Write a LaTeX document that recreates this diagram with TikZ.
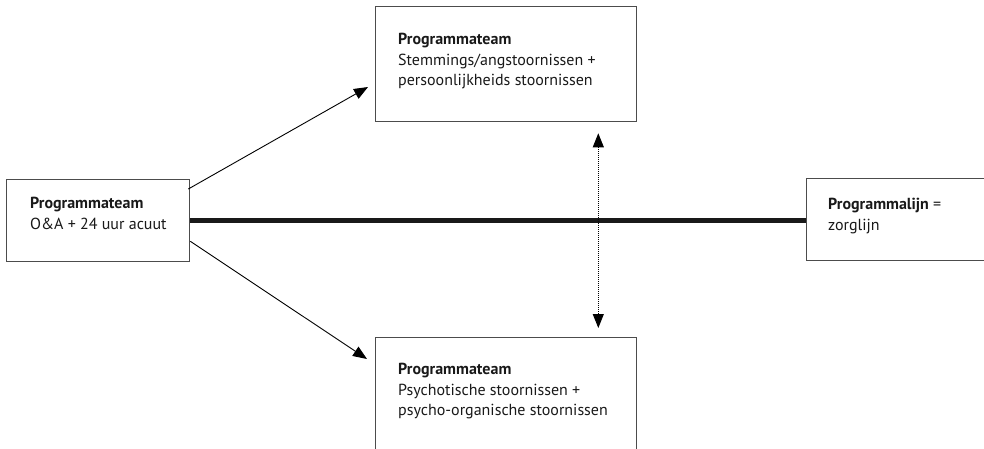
\documentclass[tikz,border=0pt]{standalone}
\usepackage{fontspec}
\setmainfont{PT Sans}
\usetikzlibrary{arrows.meta}

\begin{document}
\begin{tikzpicture}[x=1pt,y=-1pt,inner sep=0,
	box/.style={draw=black!70,line width=1.3pt,anchor=north west},
	txt/.style={anchor=north west,align=left,text=black!90,font=\fontsize{16}{20.5}\selectfont},
	pijl/.style={-{Triangle[length=14pt,width=11pt]},line width=0.9pt},
	dubbel/.style={{Triangle[length=14pt,width=11pt]}-{Triangle[length=14pt,width=11pt]},line width=0.9pt,dash pattern=on 1pt off 1pt}]
		\useasboundingbox (0,0) rectangle (984,448);
		\clip (0,0) rectangle (984,448);
		% boxes
		\node[box,minimum width=183pt,minimum height=82pt] (acuut) at (6,179) {};
		\node[box,minimum width=261pt,minimum height=115pt] (stem) at (375,6) {};
		\node[box,minimum width=261pt,minimum height=130pt] (psych) at (375,337) {};
		\node[box,minimum width=200pt,minimum height=82pt] (lijn) at (806,178) {};
		% texts
		\node[txt] (tacuut) at (30,197) {\textbf{Programmateam}\\O\&A + 24 uur acuut};
		\node[txt] (tstem) at (398,33) {\textbf{Programmateam}\\Stemmings/angstoornissen +\\persoonlijkheids stoornissen};
		\node[txt] (tpsych) at (398,363) {\textbf{Programmateam}\\Psychotische stoornissen +\\psycho-organische stoornissen};
		\node[txt] (tlijn) at (828,198) {\textbf{Programmalijn} =\\zorglijn};
		% connectors
		\coordinate (p1) at (368,87);
		\coordinate (p2) at (367,359);
		\draw[line width=4.5pt,black!90] (acuut.east) -- (acuut.east -| lijn.west);
		\draw[pijl] ([shift={(-2,10)}]acuut.north east) -- (p1);
		\draw[pijl] ([shift={(0,-21)}]acuut.south east) -- (p2);
		\draw[dubbel,shorten <=11pt,shorten >=9pt] ([xshift=-39]stem.south east) -- ([xshift=-39]psych.north east);
	\end{tikzpicture}
\end{document}
